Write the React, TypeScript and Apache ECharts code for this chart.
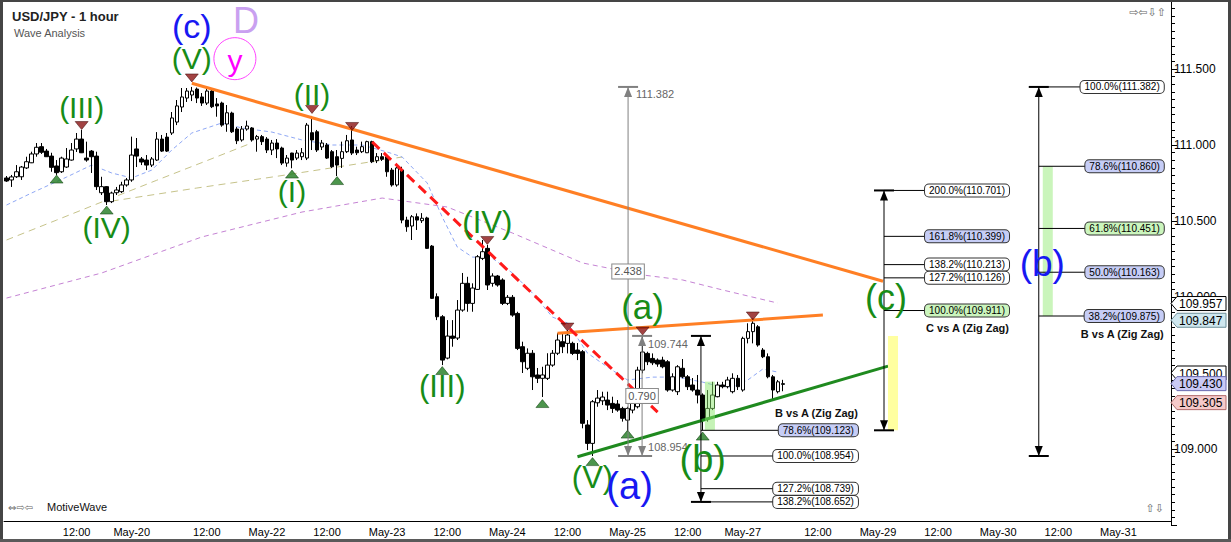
import React, { useEffect, useRef } from 'react';
import * as echarts from 'echarts';

// ---------- DATA ----------
// candles: [open, close, low, high], one per hour bar
const candles: number[][] = [
  [110.783, 110.763, 110.757, 110.796], [110.770, 110.790, 110.724, 110.803], [110.791, 110.824, 110.783, 110.868],
  [110.791, 110.855, 110.770, 110.862], [110.849, 110.890, 110.842, 110.923], [110.883, 110.941, 110.881, 110.956],
  [110.941, 110.985, 110.923, 111.013], [110.989, 110.952, 110.941, 111.013], [110.960, 110.923, 110.921, 110.974],
  [110.927, 110.853, 110.824, 110.949], [110.862, 110.818, 110.803, 110.901], [110.824, 110.914, 110.816, 110.923],
  [110.855, 110.908, 110.849, 110.980], [110.901, 110.967, 110.897, 111.013], [110.974, 111.039, 110.954, 111.079],
  [111.039, 110.949, 110.947, 111.099], [110.914, 110.901, 110.890, 111.022], [110.960, 110.923, 110.816, 110.967],
  [110.927, 110.726, 110.704, 110.956], [110.686, 110.726, 110.671, 110.791], [110.726, 110.627, 110.605, 110.730],
  [110.627, 110.684, 110.618, 110.693], [110.686, 110.704, 110.671, 110.724], [110.693, 110.737, 110.684, 110.758],
  [110.737, 110.770, 110.726, 110.783], [110.770, 110.934, 110.758, 111.055], [110.974, 110.927, 110.855, 111.046],
  [110.908, 110.888, 110.868, 110.921], [110.901, 110.868, 110.835, 110.934], [110.868, 110.908, 110.855, 110.921],
  [110.901, 111.039, 110.895, 111.085], [111.039, 110.960, 110.954, 111.066], [111.052, 110.960, 110.954, 111.079],
  [111.079, 111.178, 111.066, 111.217], [111.151, 111.257, 111.131, 111.296], [111.250, 111.316, 111.217, 111.375],
  [111.309, 111.355, 111.283, 111.375], [111.329, 111.355, 111.289, 111.382], [111.368, 111.309, 111.276, 111.378],
  [111.316, 111.276, 111.257, 111.342], [111.276, 111.355, 111.263, 111.368], [111.355, 111.252, 111.243, 111.375],
  [111.270, 111.257, 111.186, 111.309], [111.276, 111.131, 111.120, 111.285], [111.138, 111.212, 111.087, 111.263],
  [111.210, 111.087, 111.079, 111.219], [111.105, 111.028, 111.006, 111.118], [111.033, 111.105, 111.022, 111.125],
  [111.105, 111.125, 111.094, 111.160], [111.112, 111.033, 111.022, 111.118], [111.039, 111.055, 110.956, 111.066],
  [111.055, 111.022, 111.000, 111.066], [111.039, 110.967, 110.947, 111.052], [110.967, 111.013, 110.934, 111.033],
  [111.013, 110.974, 110.914, 111.039], [110.980, 110.881, 110.868, 110.989], [110.881, 110.914, 110.857, 110.934],
  [110.947, 110.901, 110.847, 110.949], [110.914, 110.947, 110.901, 110.967], [110.923, 110.949, 110.901, 110.980],
  [110.914, 111.131, 110.901, 111.145], [111.081, 111.033, 110.967, 111.191], [111.087, 110.967, 110.954, 111.099],
  [110.987, 111.013, 110.967, 111.033], [111.000, 110.914, 110.908, 111.013], [110.956, 110.857, 110.849, 110.967],
  [110.923, 110.868, 110.796, 110.967], [110.912, 110.956, 110.849, 111.022], [110.956, 111.028, 110.947, 111.066],
  [111.033, 110.947, 110.934, 111.125], [110.967, 110.949, 110.934, 110.989], [110.956, 110.989, 110.947, 111.022],
  [110.949, 111.022, 110.947, 111.028], [111.022, 110.890, 110.881, 111.028], [110.897, 110.923, 110.881, 110.947],
  [110.923, 110.906, 110.895, 110.947], [110.923, 110.824, 110.791, 110.934], [110.835, 110.737, 110.726, 110.849],
  [110.737, 110.849, 110.726, 110.857], [110.835, 110.506, 110.485, 110.857], [110.506, 110.462, 110.429, 110.528],
  [110.467, 110.528, 110.375, 110.539], [110.528, 110.506, 110.441, 110.550], [110.502, 110.518, 110.487, 110.552],
  [110.520, 110.320, 110.316, 110.528], [110.335, 109.991, 109.987, 110.342], [110.002, 109.870, 109.848, 110.024],
  [109.870, 109.585, 109.552, 109.881], [109.598, 109.743, 109.590, 109.848], [109.743, 109.728, 109.673, 109.848],
  [109.730, 109.914, 109.717, 109.980], [109.914, 110.090, 109.903, 110.158], [110.090, 109.958, 109.903, 110.133],
  [109.958, 110.059, 109.903, 110.090], [110.050, 110.265, 110.046, 110.276], [110.254, 110.298, 110.243, 110.375],
  [110.320, 110.079, 110.046, 110.342], [110.090, 110.138, 110.068, 110.156], [110.138, 110.079, 110.068, 110.145],
  [110.112, 109.958, 109.947, 110.123], [109.958, 109.998, 109.947, 110.013], [109.998, 109.881, 109.870, 110.013],
  [109.892, 109.662, 109.651, 109.903], [109.673, 109.574, 109.500, 109.706], [109.531, 109.630, 109.519, 109.662],
  [109.630, 109.475, 109.388, 109.651], [109.487, 109.465, 109.434, 109.533], [109.465, 109.487, 109.342, 109.541],
  [109.465, 109.552, 109.454, 109.630], [109.552, 109.630, 109.541, 109.651], [109.630, 109.717, 109.618, 109.761],
  [109.706, 109.673, 109.631, 109.761], [109.695, 109.750, 109.629, 109.783], [109.695, 109.629, 109.618, 109.706],
  [109.651, 109.629, 109.585, 109.697], [109.640, 109.169, 109.136, 109.651], [109.158, 109.037, 108.993, 109.190],
  [109.037, 109.311, 108.954, 109.322], [109.304, 109.335, 109.278, 109.388], [109.317, 109.342, 109.289, 109.377],
  [109.322, 109.289, 109.256, 109.377], [109.300, 109.267, 109.237, 109.344], [109.296, 109.256, 109.245, 109.322],
  [109.267, 109.202, 109.180, 109.278], [109.190, 109.267, 109.113, 109.278], [109.256, 109.300, 109.235, 109.366],
  [109.278, 109.519, 109.267, 109.541], [109.519, 109.638, 109.498, 109.744], [109.629, 109.574, 109.552, 109.640],
  [109.596, 109.567, 109.552, 109.629], [109.585, 109.559, 109.541, 109.596], [109.585, 109.541, 109.531, 109.607],
  [109.574, 109.388, 109.377, 109.585], [109.388, 109.475, 109.377, 109.498], [109.377, 109.541, 109.355, 109.552],
  [109.531, 109.475, 109.465, 109.592], [109.475, 109.410, 109.388, 109.487], [109.421, 109.388, 109.377, 109.467],
  [109.388, 109.355, 109.300, 109.487], [109.355, 109.190, 109.123, 109.366], [109.202, 109.267, 109.180, 109.388],
  [109.267, 109.355, 109.256, 109.442], [109.344, 109.421, 109.340, 109.442], [109.421, 109.410, 109.399, 109.442],
  [109.410, 109.454, 109.399, 109.475], [109.377, 109.465, 109.366, 109.498], [109.465, 109.410, 109.388, 109.487],
  [109.388, 109.728, 109.377, 109.739], [109.728, 109.772, 109.695, 109.827], [109.772, 109.827, 109.695, 109.860],
  [109.804, 109.684, 109.673, 109.815], [109.651, 109.607, 109.598, 109.664], [109.607, 109.475, 109.465, 109.629],
  [109.475, 109.388, 109.322, 109.487], [109.377, 109.442, 109.366, 109.454], [109.425, 109.430, 109.380, 109.455],
];

const barCount = 233;
const tickIdx = [14, 25, 40, 52, 64, 76, 88, 100, 112, 124, 136, 147, 162, 174, 186, 198, 210, 222];
const tickText = ['12:00', 'May-20', '12:00', 'May-22', '12:00', 'May-23', '12:00', 'May-24', '12:00', 'May-25',
  '12:00', 'May-27', '12:00', 'May-29', '12:00', 'May-30', '12:00', 'May-31'];

// moving averages read at sample bars: [bar, price]
const maBlue = [[0, 110.605], [5, 110.684], [12, 110.789], [17, 110.868], [21, 110.816], [25, 110.783], [29, 110.835],
  [33, 110.967], [37, 111.079], [43, 111.145], [47, 111.112], [53, 111.085], [59, 111.033], [65, 111.0], [71, 111.0],
  [76, 110.954], [79, 110.921], [84, 110.75], [87, 110.526], [90, 110.329], [93, 110.263], [97, 110.256], [101, 110.158],
  [105, 110.026], [109, 109.868], [112, 109.829], [116, 109.631], [120, 109.539], [124, 109.454], [129, 109.473],
  [134, 109.473], [139, 109.44], [142, 109.414], [145, 109.407], [148, 109.454], [151, 109.526], [154, 109.506]];
const maOliveA = [[0, 110.375], [10, 110.506], [20, 110.638], [30, 110.768], [40, 110.897], [49, 111.014]];
const maOliveB = [[21, 110.631], [25, 110.651], [38, 110.717], [53, 110.789], [66, 110.855], [79, 110.921]];
const maPurple = [[0, 109.993], [19, 110.158], [39, 110.395], [59, 110.559], [75, 110.651], [88, 110.592],
  [101, 110.421], [115, 110.224], [127, 110.145], [135, 110.112], [143, 110.046], [154, 109.96]];

// trend lines
const trendOrange = [[37, 111.406], [175, 110.104]];
const trendRed = [[73, 111.02], [130, 109.243]];
const trendOrangeShort = [[110, 109.761], [163, 109.881]];
const trendGreen = [[114, 108.949], [176, 109.545]];

// swing markers
const highMarks = [[15, 111.128], [37, 111.441], [61, 111.234], [69, 111.122], [96, 110.372], [112, 109.802], [127, 109.776], [149, 109.875]];
const lowMarks = [[10, 110.776], [20, 110.572], [57, 110.809], [66, 110.766], [87, 109.516], [107, 109.299], [117, 108.917], [124, 109.098], [139, 109.085]];

// wave labels: text, bar, price, colour, font size
const GREEN = '#178c17';
const BLUE = '#1818f2';
const waveLabels: any[] = [
  ['(III)', 15, 111.25, GREEN, 30], ['(IV)', 20, 110.46, GREEN, 30], ['(V)', 37, 111.566, GREEN, 30],
  ['(c)', 37, 111.785, BLUE, 34], ['(II)', 61, 111.335, GREEN, 30], ['(I)', 57, 110.697, GREEN, 30],
  ['(III)', 87, 109.414, GREEN, 31], ['(IV)', 96, 110.487, GREEN, 31], ['(V)', 117, 108.81, GREEN, 31],
  ['(a)', 124.4, 108.758, BLUE, 38], ['(a)', 127, 109.935, GREEN, 35], ['(b)', 139, 108.936, GREEN, 38],
  ['(c)', 175.6, 110.0, GREEN, 36], ['(b)', 206.8, 110.218, BLUE, 37], ['D', 47.8, 111.822, '#c9a0f0', 36],
  ['y', 45.6, 111.556, '#ff00ff', 30],
];

// fibonacci tools
const BLUEBOX = '#c6cdf6';
const GREENBOX = '#cbf5bd';
const fibSmallLevels: any[] = [['78.6%(109.123)', 109.123, BLUEBOX], ['100.0%(108.954)', 108.954, '#ffffff'],
  ['127.2%(108.739)', 108.739, '#ffffff'], ['138.2%(108.652)', 108.652, '#ffffff']];
const fibCLevels: any[] = [['200.0%(110.701)', 110.701, '#ffffff'], ['161.8%(110.399)', 110.399, BLUEBOX],
  ['138.2%(110.213)', 110.213, '#ffffff'], ['127.2%(110.126)', 110.126, '#ffffff'], ['100.0%(109.911)', 109.911, GREENBOX]];
const fibBigLevels: any[] = [['100.0%(111.382)', 111.382, '#ffffff'], ['78.6%(110.860)', 110.86, BLUEBOX],
  ['61.8%(110.451)', 110.451, GREENBOX], ['50.0%(110.163)', 110.163, BLUEBOX], ['38.2%(109.875)', 109.875, BLUEBOX]];

const priceTags: any[] = [[109.957, '#ffffff', '#000000'], [109.847, '#cfe7ef', '#6d8f99'], [109.5, '#ffffff', '#000000'],
  [109.43, '#c9c9f5', '#6b6bb0'], [109.305, '#f5c9c9', '#b06b6b']];

// chart canvas is shifted up so that the 108.5–112.0 axis fits exactly
const OY = 7;

// ---------- CHART ----------
export default function App() {
  const ref = useRef<HTMLDivElement>(null);
  useEffect(() => {
    document.body.style.margin = '0';
    document.body.style.overflow = 'hidden';
    const chart = echarts.init(ref.current!, null, { renderer: 'svg' });
    const cats = Array.from({ length: barCount }, (_, i) => String(i));
    const labelMap = new Map<number, string>(tickIdx.map((k, i) => [k, tickText[i]]));
    const maLine = (data: number[][], color: string, dash: number[]) => ({
      type: 'line', data, symbol: 'none', silent: true, z: 1, connectNulls: true,
      lineStyle: { color, width: 1, type: dash },
    });
    const trend = (data: number[][], color: string, dash?: number[]) => ({
      type: 'line', data, symbol: 'none', silent: true, z: 3,
      lineStyle: { color, width: 3, type: dash || 'solid', cap: 'butt' },
    });
    chart.setOption({
      animation: false,
      backgroundColor: '#ffffff',
      textStyle: { fontFamily: 'Liberation Sans' },
      grid: { left: 4, right: 60, top: 0, bottom: 17 },
      xAxis: {
        type: 'category', data: cats, boundaryGap: true, offset: -4,
        axisLine: { onZero: false, lineStyle: { color: '#000', width: 1 } },
        axisTick: { inside: true, length: 5, alignWithLabel: true, interval: (i: number) => labelMap.has(i), lineStyle: { color: '#000' } },
        axisLabel: { interval: (i: number) => labelMap.has(i), formatter: (_v: string, i: number) => labelMap.get(i) || '', margin: 5, fontSize: 11, color: '#000' },
        splitLine: { show: false },
      },
      yAxis: {
        type: 'value', position: 'right', min: 108.5, max: 112, interval: 0.5,
        axisLine: { show: true, lineStyle: { color: '#000' } },
        axisTick: { show: true, length: 6, lineStyle: { color: '#000' } },
        minorTick: { show: true, splitNumber: 10, length: 4, lineStyle: { color: '#000' } },
        splitLine: { show: false },
        axisLabel: { margin: 3, fontSize: 12, color: '#000', formatter: (v: number) => (v < 108.75 || v > 111.75 ? '' : v.toFixed(3)) },
      },
      series: [
        maLine(maPurple, '#c583d4', [5, 4]),
        maLine(maOliveA, '#c6c38a', [7, 5]),
        maLine(maOliveB, '#c6c38a', [7, 5]),
        maLine(maBlue, '#8fa8f5', [4, 3]),
        {
          type: 'candlestick', data: candles, barWidth: 4, z: 2,
          itemStyle: { color: '#ffffff', color0: '#000000', borderColor: '#000000', borderColor0: '#000000', borderWidth: 1 },
        },
        trend(trendOrange, '#ff7f24'),
        trend(trendOrangeShort, '#ff7f24'),
        trend(trendGreen, '#1f8a1f'),
        trend(trendRed, '#ff1a1a', [10, 6]),
        {
          type: 'scatter', data: highMarks, symbol: 'triangle', symbolRotate: 180, symbolSize: [13, 8], z: 5,
          itemStyle: { color: '#8b1414', borderColor: '#3a0000', borderWidth: 0.6 },
        },
        {
          type: 'scatter', data: lowMarks, symbol: 'triangle', symbolSize: [13, 8], z: 5,
          itemStyle: { color: '#1f7a1f', borderColor: '#063806', borderWidth: 0.6 },
        },
      ],
    });

    const toPx = (k: number, p: number) => {
      const a = chart.convertToPixel({ gridIndex: 0 }, [0, p]) as number[];
      const b = chart.convertToPixel({ gridIndex: 0 }, [1, p]) as number[];
      return [a[0] + (b[0] - a[0]) * k, a[1]];
    };
    const X = (k: number) => toPx(k, 110)[0];
    const Y = (p: number) => toPx(0, p)[1];

    const els: any[] = [];
    const line = (x1: number, y1: number, x2: number, y2: number, stroke: string, w: number, z = 30) =>
      els.push({ type: 'line', silent: true, z, shape: { x1, y1, x2, y2 }, style: { stroke, lineWidth: w } });
    const poly = (points: number[][], fill: string, z = 30, stroke?: string) =>
      els.push({ type: 'polygon', silent: true, z, shape: { points }, style: { fill, stroke: stroke || null, lineWidth: stroke ? 1 : 0 } });
    const rect = (x: number, y: number, width: number, height: number, fill: string, z = 25) =>
      els.push({ type: 'rect', silent: true, z, shape: { x, y, width, height }, style: { fill } });
    const text = (x: number, y: number, t: string, o: any = {}) =>
      els.push({
        type: 'text', silent: true, z: o.z || 40, x, y,
        style: {
          text: t, fill: o.fill || '#000', fontSize: o.size || 11, fontFamily: o.family || 'Liberation Sans',
          fontWeight: o.weight || 'normal', align: o.align || 'left', verticalAlign: o.va || 'middle',
          textAlign: o.align || 'left', textVerticalAlign: o.va || 'middle',
          backgroundColor: o.bg, borderColor: o.bd, borderWidth: o.bd ? 1 : 0, borderRadius: o.r || 0, padding: o.pad,
        },
      });

    // frame (page coordinates + OY)
    rect(0, OY, 3, 542, '#454545', 90);
    rect(0, OY, 1231, 2, '#454545', 90);
    rect(1228, OY, 3, 542, '#454545', 90);
    rect(0, 539 + OY, 1231, 3, '#5a5a5a', 90);

    // titles & icons
    text(12, 16 + OY, 'USD/JPY - 1 hour', { size: 13, weight: 'bold', fill: '#222' });
    text(14, 33 + OY, 'Wave Analysis', { size: 11, fill: '#555' });
    text(8, 507 + OY, '⇔⇨⇦', { size: 10, family: 'DejaVu Sans', fill: '#666' });
    text(47, 507 + OY, 'MotiveWave', { size: 11, fill: '#111' });
    text(1166, 12 + OY, '⇨⇦⇩⇧', { size: 11, family: 'DejaVu Sans', fill: '#666', align: 'right' });
    text(1164, 508 + OY, '⇧⇩', { size: 11, family: 'DejaVu Sans', fill: '#666', align: 'right' });

    // fib tools
    const fibTool = (k: number, pTop: number, pBot: number, levels: any[], boxOff: number, title: string, titleP: number, zone: any) => {
      const x = X(k);
      const yt = Y(pTop);
      const yb = Y(pBot);
      rect(x + 4, Y(zone[1]), 10, Y(zone[0]) - Y(zone[1]), zone[2], 26);
      line(x, yt, x, yb, '#000', 1);
      line(x - 10, yt, x + 10, yt, '#000', 2);
      line(x - 10, yb, x + 10, yb, '#000', 2);
      poly([[x, yt], [x - 4, yt + 10], [x + 4, yt + 10]], '#000');
      poly([[x, yb], [x - 4, yb - 10], [x + 4, yb - 10]], '#000');
      levels.forEach(([t, p, bg]) => {
        const y = Y(p);
        line(x, y, x + boxOff - 20, y, '#000', 1);
        text(x + boxOff, y, t, { size: 10, align: 'right', bg, bd: '#333', r: 4, pad: [1, 4, 1, 4], z: 42 });
      });
      text(x + boxOff, Y(titleP), title, { size: 11, weight: 'bold', align: 'right', fill: '#111' });
    };
    fibTool(138.65, 109.744, 108.652, fibSmallLevels, 157, 'B vs A (Zig Zag)', 109.237, [109.123, 109.443, 'rgba(140,232,110,0.5)']);
    fibTool(175.2, 110.701, 109.123, fibCLevels, 125, 'C vs A (Zig Zag)', 109.796, [109.123, 109.744, 'rgba(255,255,150,0.9)']);
    fibTool(206.1, 111.382, 108.954, fibBigLevels, 125, 'B vs A (Zig Zag)', 109.757, [109.875, 110.86, 'rgba(150,236,120,0.5)']);

    // gray measuring tools
    const GR = '#808080';
    const measure = (k: number, pTop: number, pBot: number) => {
      const x = X(k);
      const yt = Y(pTop);
      const yb = Y(pBot);
      line(x, yt, x, yb, GR, 1, 28);
      line(x - 10, yt, x + 10, yt, GR, 2, 28);
      line(x - 10, yb, x + 10, yb, GR, 2, 28);
      poly([[x, yt], [x - 4, yt + 10], [x + 4, yt + 10]], GR, 28);
      poly([[x, yb], [x - 4, yb - 10], [x + 4, yb - 10]], GR, 28);
      return [x, yt, yb];
    };
    const o = measure(124.1, 111.382, 108.954);
    const inn = measure(126.9, 109.744, 108.954);
    text(o[0] + 8, o[1] + 7, '111.382', { size: 11, fill: '#666' });
    text(inn[0] + 6, inn[1] + 8, '109.744', { size: 11, fill: '#666' });
    text(inn[0] + 6, inn[2] - 9, '108.954', { size: 11, fill: '#666' });
    text(o[0], (o[1] + o[2]) / 2, '2.438', { size: 11, fill: '#555', align: 'center', bg: '#fff', bd: '#888', pad: [2, 2, 1, 2] });
    text(inn[0], (inn[1] + inn[2]) / 2, '0.790', { size: 11, fill: '#555', align: 'center', bg: '#fff', bd: '#888', pad: [2, 2, 1, 2] });

    // wave labels
    waveLabels.forEach(([t, k, p, c, s]) => {
      const [x, y] = toPx(k, p);
      text(x, y, t, { size: s, fill: c, align: 'center', z: 50 });
      if (t === 'y') {
        const [cx, cy] = toPx(k, p + 0.012);
        els.push({ type: 'circle', silent: true, z: 50, shape: { cx, cy, r: 21 }, style: { fill: 'none', stroke: '#ff44ff', lineWidth: 1 } });
      }
    });

    // price tags on the axis
    priceTags.forEach(([v, bg, bd], i) => {
      const y = Y(v);
      poly([[1171, y], [1177, y - 7], [1226, y - 7], [1226, y + 7], [1177, y + 7]], bg, 60 + i * 2, bd);
      text(1179, y + 0.5, v.toFixed(3), { size: 12, z: 61 + i * 2 });
    });

    chart.setOption({ graphic: { elements: els } });
    return () => chart.dispose();
  }, []);
  return <div ref={ref} style={{ position: 'absolute', left: 0, top: -OY, width: 1231, height: 542 + OY }} />;
}
